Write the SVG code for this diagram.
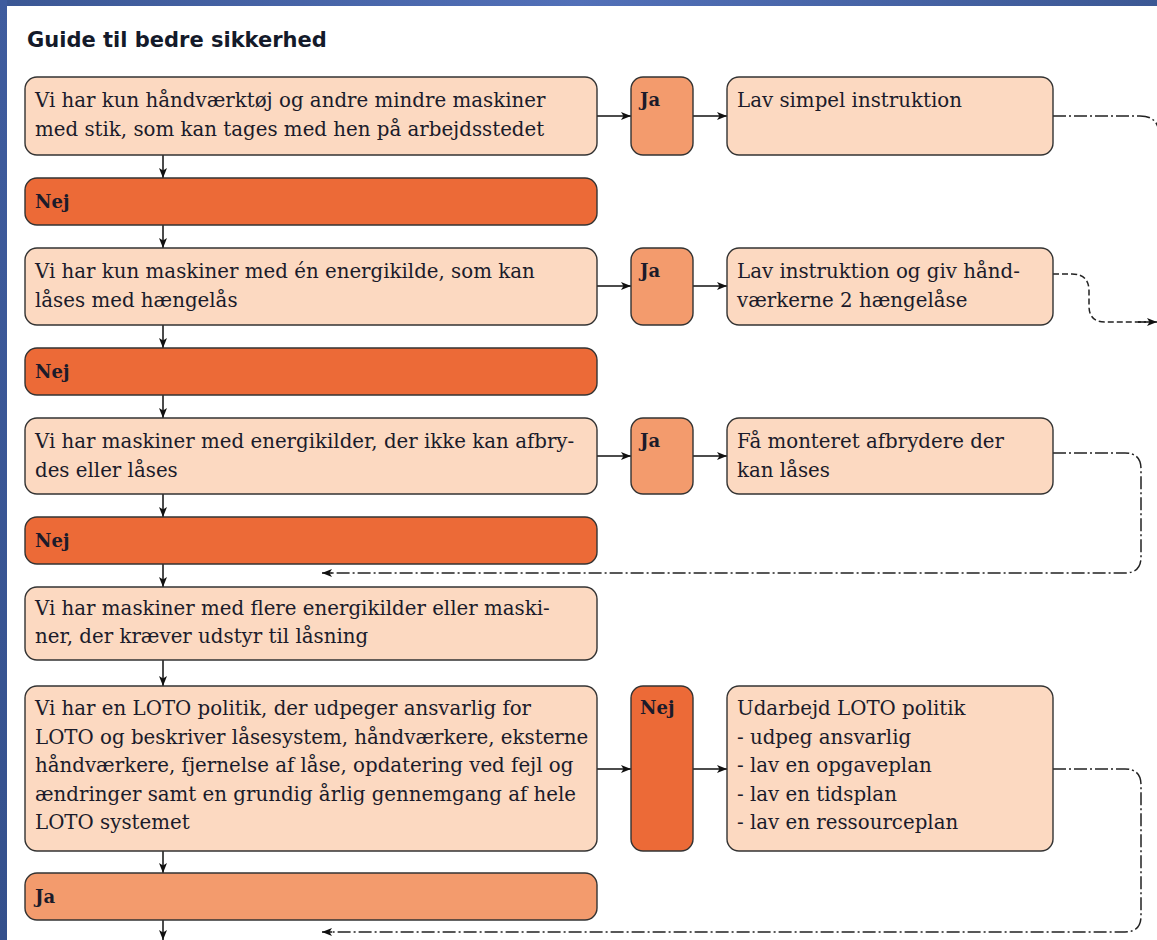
<svg xmlns="http://www.w3.org/2000/svg" width="1157" height="940" viewBox="0 0 1157 940">
<defs>
<linearGradient id="gTop" x1="0" y1="0" x2="1" y2="0">
<stop offset="0" stop-color="#3b5794"/>
<stop offset="0.5" stop-color="#5270b8"/>
<stop offset="1" stop-color="#3c5894"/>
</linearGradient>
<linearGradient id="gLeft" x1="0" y1="0" x2="0" y2="1">
<stop offset="0" stop-color="#3f5c9e"/>
<stop offset="1" stop-color="#34508c"/>
</linearGradient>
<marker id="ah" markerWidth="11" markerHeight="9" refX="10" refY="4.5" orient="auto" markerUnits="userSpaceOnUse">
<path d="M0,0.5 L10,4.5 L0,8.5 L2.5,4.5 z" fill="#111"/>
</marker>
</defs>
<style>
.bg{fill:#ffffff}
.lt{fill:#fcd9c1;stroke:#333;stroke-width:1.4}
.md{fill:#f39b6d;stroke:#333;stroke-width:1.4}
.dk{fill:#ec6a37;stroke:#333;stroke-width:1.4}
.t{font-family:"DejaVu Serif","Liberation Serif",serif;font-size:19.8px;fill:#1b1b2a}
.b{font-family:"DejaVu Serif","Liberation Serif",serif;font-size:18px;font-weight:bold;fill:#1b1b2a}
.title{font-family:"DejaVu Sans","Liberation Sans",sans-serif;font-size:21px;font-weight:bold;fill:#141a2a}
.ar{fill:none;stroke:#111;stroke-width:1.5;marker-end:url(#ah)}
.dd{fill:none;stroke:#222;stroke-width:1.5;stroke-dasharray:13 3 2 3}
.ds{fill:none;stroke:#222;stroke-width:1.5;stroke-dasharray:6 3}
</style>
<rect class="bg" x="0" y="0" width="1157" height="940"/>
<rect x="0" y="0" width="1157" height="6" fill="url(#gTop)"/>
<rect x="0" y="0" width="7" height="940" fill="url(#gLeft)"/>

<text class="title" x="27" y="47">Guide til bedre sikkerhed</text>

<g id="connectors">
<path class="ar" d="M163,155 V178"/>
<path class="ar" d="M163,225 V248"/>
<path class="ar" d="M163,325 V348"/>
<path class="ar" d="M163,395 V418"/>
<path class="ar" d="M163,494 V517"/>
<path class="ar" d="M163,564 V587"/>
<path class="ar" d="M163,660 V686"/>
<path class="ar" d="M163,851 V873"/>
<path class="ar" d="M163,920 V940"/>
<path class="ar" d="M597,116 H631"/>
<path class="ar" d="M693,116 H727"/>
<path class="ar" d="M597,286 H631"/>
<path class="ar" d="M693,286 H727"/>
<path class="ar" d="M597,456 H631"/>
<path class="ar" d="M693,456 H727"/>
<path class="ar" d="M597,769 H631"/>
<path class="ar" d="M693,769 H727"/>
<path class="dd" d="M1053,116 H1140 Q1159,116 1159,135 V220"/>
<path class="ds" d="M1053,274 H1072 Q1089,274 1089,291 V306 Q1089,322 1105,322 H1146"/>
<path class="ar" d="M1138,322 H1157"/>
<path class="dd" d="M1053,453 H1125 Q1141,453 1141,469 V557 Q1141,573 1125,573 H330"/>
<path class="ar" d="M332,573 H322"/>
<path class="dd" d="M1053,769 H1125 Q1141,769 1141,785 V916 Q1141,932 1125,932 H330"/>
<path class="ar" d="M332,932 H322"/>
</g>

<g id="q1">
<rect class="lt" x="25" y="77" width="572" height="78" rx="12"/>
<text class="t" x="35" y="107">Vi har kun håndværktøj og andre mindre maskiner</text>
<text class="t" x="35" y="135.5">med stik, som kan tages med hen på arbejdsstedet</text>
</g>
<g id="ja1">
<rect class="md" x="631" y="77" width="62" height="78" rx="12"/>
<text class="b" x="640" y="106">Ja</text>
</g>
<g id="a1">
<rect class="lt" x="727" y="77" width="326" height="78" rx="12"/>
<text class="t" x="737" y="107">Lav simpel instruktion</text>
</g>
<g id="nej1">
<rect class="dk" x="25" y="178" width="572" height="47" rx="12"/>
<text class="b" x="35" y="208">Nej</text>
</g>

<g id="q2">
<rect class="lt" x="25" y="248" width="572" height="77" rx="12"/>
<text class="t" x="35" y="278">Vi har kun maskiner med én energikilde, som kan</text>
<text class="t" x="35" y="306.5">låses med hængelås</text>
</g>
<g id="ja2">
<rect class="md" x="631" y="248" width="62" height="77" rx="12"/>
<text class="b" x="640" y="277">Ja</text>
</g>
<g id="a2">
<rect class="lt" x="727" y="248" width="326" height="77" rx="12"/>
<text class="t" x="737" y="278">Lav instruktion og giv hånd-</text>
<text class="t" x="737" y="306.5">værkerne 2 hængelåse</text>
</g>
<g id="nej2">
<rect class="dk" x="25" y="348" width="572" height="47" rx="12"/>
<text class="b" x="35" y="378">Nej</text>
</g>

<g id="q3">
<rect class="lt" x="25" y="418" width="572" height="76" rx="12"/>
<text class="t" x="35" y="448">Vi har maskiner med energikilder, der ikke kan afbry-</text>
<text class="t" x="35" y="476.5">des eller låses</text>
</g>
<g id="ja3">
<rect class="md" x="631" y="418" width="62" height="76" rx="12"/>
<text class="b" x="640" y="447">Ja</text>
</g>
<g id="a3">
<rect class="lt" x="727" y="418" width="326" height="76" rx="12"/>
<text class="t" x="737" y="448">Få monteret afbrydere der</text>
<text class="t" x="737" y="476.5">kan låses</text>
</g>
<g id="nej3">
<rect class="dk" x="25" y="517" width="572" height="47" rx="12"/>
<text class="b" x="35" y="547">Nej</text>
</g>

<g id="q4">
<rect class="lt" x="25" y="587" width="572" height="73" rx="12"/>
<text class="t" x="35" y="615">Vi har maskiner med flere energikilder eller maski-</text>
<text class="t" x="35" y="643">ner, der kræver udstyr til låsning</text>
</g>

<g id="q5">
<rect class="lt" x="25" y="686" width="572" height="165" rx="12"/>
<text class="t" x="35" y="715">Vi har en LOTO politik, der udpeger ansvarlig for</text>
<text class="t" x="35" y="743.5">LOTO og beskriver låsesystem, håndværkere, eksterne</text>
<text class="t" x="35" y="772">håndværkere, fjernelse af låse, opdatering ved fejl og</text>
<text class="t" x="35" y="800.5">ændringer samt en grundig årlig gennemgang af hele</text>
<text class="t" x="35" y="829">LOTO systemet</text>
</g>
<g id="nej5">
<rect class="dk" x="631" y="686" width="62" height="165" rx="12"/>
<text class="b" x="640" y="714">Nej</text>
</g>
<g id="a5">
<rect class="lt" x="727" y="686" width="326" height="165" rx="12"/>
<text class="t" x="737" y="715">Udarbejd LOTO politik</text>
<text class="t" x="737" y="743.5">- udpeg ansvarlig</text>
<text class="t" x="737" y="772">- lav en opgaveplan</text>
<text class="t" x="737" y="800.5">- lav en tidsplan</text>
<text class="t" x="737" y="829">- lav en ressourceplan</text>
</g>
<g id="ja5">
<rect class="md" x="25" y="873" width="572" height="47" rx="12"/>
<text class="b" x="35" y="903">Ja</text>
</g>
</svg>
